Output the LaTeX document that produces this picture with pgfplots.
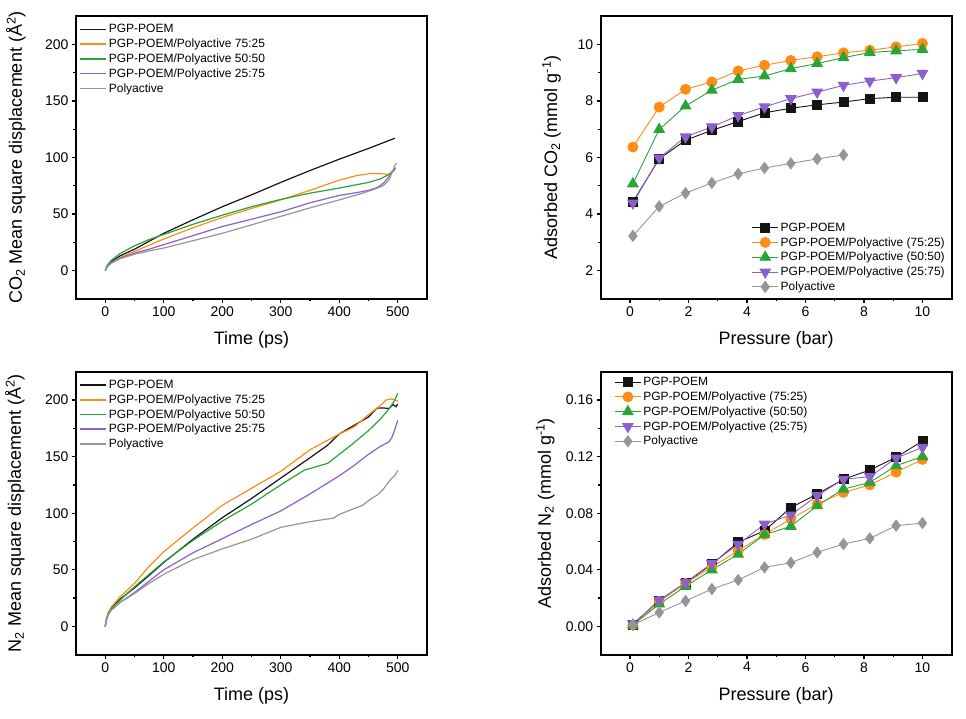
\documentclass[border=0pt]{standalone}
\usepackage{fontspec}
\setmainfont{Liberation Sans}
\usepackage{pgfplots}
\pgfplotsset{compat=1.18}
\definecolor{cBk}{RGB}{20,20,20}
\definecolor{cOr}{RGB}{255,140,20}
\definecolor{cGr}{RGB}{40,165,55}
\definecolor{cPu}{RGB}{140,95,205}
\definecolor{cGy}{RGB}{150,150,150}
\pgfplotsset{
  myax/.style={
    scale only axis, width=351pt, height=283pt, anchor=south west,
    axis line style={line width=2pt},
    tick align=outside, xtick pos=left, ytick pos=left,
    major tick length=4pt, minor tick length=2.5pt,
    every tick/.style={black, line width=1.3pt},
    minor tick num=1,
    tick label style={font=\fontsize{14}{16}\selectfont},
    label style={font=\fontsize{18}{21}\selectfont},
    /pgf/number format/assume math mode=true,
    legend style={draw=none, fill=none, font=\fontsize{12}{14}\selectfont, row sep=0.6pt},
    legend cell align=left,
    legend image code/.code={\draw[mark repeat=2,mark phase=2,##1] plot coordinates {(0pt,0pt) (13pt,0pt) (26pt,0pt)};},
  },
  msd/.style={myax, xmin=-50, xmax=550, ymin=-25, ymax=225, xtick={0,100,...,500}, ytick={0,50,...,200},
    xlabel={Time (ps)}, xlabel style={at={(axis description cs:0.5,-0.145)}, anchor=center},
    legend image code/.code={\draw[##1, line width=1.7pt] (0pt,0pt) -- (26pt,0pt);},
    legend style={at={(axis description cs:0.0,0.985)}, anchor=north west}},
  ads/.style={myax, xmin=-1, xmax=11, xtick={0,2,...,10},
    xlabel={Pressure (bar)}, xlabel style={at={(axis description cs:0.5,-0.145)}, anchor=center}},
  ln/.style={line width=1.2pt},
  mk/.style={line width=0.9pt, mark options={solid}},
}
\begin{document}
\begin{tikzpicture}
\useasboundingbox (0,0) rectangle (966pt,718pt);
% ---------------- top left
\begin{axis}[msd, at={(76pt,419pt)},
  ylabel={CO\textsubscript{2} Mean square displacement (Å\textsuperscript{2})},
  ylabel style={at={(axis description cs:-0.171,0.5)}, anchor=center}]
\addplot[ln, cBk] coordinates {(0,0) (3,4) (10,8) (25,13) (50,19) (75,26) (100,33) (150,45) (200,56.5) (250,67) (300,78) (350,88.5) (400,98.5) (450,108) (495,117)};
\addlegendentry{PGP-POEM}
\addplot[ln, cOr] coordinates {(0,0) (3,3.5) (10,7) (25,11.5) (50,17) (75,22.5) (100,28) (150,38) (200,47) (250,55) (300,62.5) (350,71) (400,80) (430,84) (455,86) (475,85.5) (485,85) (495,89)};
\addlegendentry{PGP-POEM/Polyactive 75:25}
\addplot[ln, cGr] coordinates {(0,0) (3,4.5) (10,9) (25,15) (50,22) (75,27.5) (100,32) (150,41) (200,49) (250,56.5) (300,63) (350,68.5) (400,73) (430,76) (450,78) (470,81) (485,85) (497,91)};
\addlegendentry{PGP-POEM/Polyactive 50:50}
\addplot[ln, cPu] coordinates {(0,0) (3,3.5) (10,7) (25,11) (50,15.5) (75,19) (100,23) (150,31) (200,39) (250,45.5) (300,52) (350,60) (400,66.5) (430,69) (450,71) (465,73.5) (475,77) (485,83) (495,90)};
\addlegendentry{PGP-POEM/Polyactive 25:75}
\addplot[ln, cGy] coordinates {(0,0) (3,3) (10,6.5) (25,10.5) (50,14.5) (75,17.5) (100,20) (150,26.5) (200,33) (250,40.5) (300,48) (350,55.5) (400,62.5) (440,68.5) (460,72) (475,75) (485,80) (495,93) (498,95)};
\addlegendentry{Polyactive}
\end{axis}
% ---------------- bottom left
\begin{axis}[msd, at={(76pt,63.3pt)},
  ylabel={N\textsubscript{2} Mean square displacement (Å\textsuperscript{2})},
  ylabel style={at={(axis description cs:-0.174,0.5)}, anchor=center}]
\addplot[ln, cBk] coordinates {(0,0) (2,6) (5,11) (10,16) (25,24) (50,34) (75,45) (100,56.5) (150,77) (200,96) (250,113) (300,131) (350,149) (380,160) (400,170) (420,176) (450,185) (465,193) (475,193) (485,192.5) (492,196) (497,194) (500,196.5)};
\addlegendentry{PGP-POEM}
\addplot[ln, cOr] coordinates {(0,0) (2,6.5) (5,12) (10,17) (25,26) (50,38) (75,53) (100,66) (150,87) (200,107) (250,122) (300,137) (350,156) (375,163) (400,170) (425,176) (450,187) (470,195) (480,200) (490,201) (500,199)};
\addlegendentry{PGP-POEM/Polyactive 75:25}
\addplot[ln, cGr] coordinates {(0,0) (2,6) (5,11) (10,15.5) (25,23) (50,35) (75,46) (100,57) (150,76) (200,93) (250,108) (300,125) (340,138) (360,141) (380,144) (400,152) (420,160) (450,173) (470,183) (485,192) (495,200) (500,206)};
\addlegendentry{PGP-POEM/Polyactive 50:50}
\addplot[ln, cPu] coordinates {(0,0) (2,5.5) (5,10.5) (10,14.5) (25,21) (50,30) (75,40) (100,50) (150,65) (200,77.5) (250,90) (300,102) (350,117) (400,133) (425,142) (450,152) (470,159) (485,163) (490,167) (495,174) (500,182)};
\addlegendentry{PGP-POEM/Polyactive 25:75}
\addplot[ln, cGy] coordinates {(0,0) (2,5.5) (5,10) (10,14) (25,21) (50,29) (75,38) (100,46) (150,59) (200,68.5) (250,77) (300,87.5) (350,92.5) (375,94.5) (390,95.5) (400,99) (420,103) (440,107) (455,113) (465,116) (475,121) (485,128) (490,131) (495,133) (500,138)};
\addlegendentry{Polyactive}
\end{axis}
% ---------------- top right
\begin{axis}[ads, at={(600.7pt,419pt)}, ymin=1, ymax=11, ytick={2,4,...,10},
  ylabel={Adsorbed CO\textsubscript{2} (mmol g\textsuperscript{-1})},
  ylabel style={at={(axis description cs:-0.14,0.5)}, anchor=center},
  legend style={at={(axis description cs:0.995,0.01)}, anchor=south east}]
\addplot[mk, cBk, mark=square*, mark size=4.5pt] coordinates {(0.1,4.43) (1.0,5.95) (1.9,6.61) (2.8,6.96) (3.7,7.27) (4.6,7.58) (5.5,7.74) (6.4,7.86) (7.3,7.96) (8.2,8.08) (9.1,8.13) (10,8.13)};
\addlegendentry{PGP-POEM}
\addplot[mk, cOr, mark=*, mark size=5pt] coordinates {(0.1,6.37) (1.0,7.78) (1.9,8.41) (2.8,8.67) (3.7,9.06) (4.6,9.26) (5.5,9.43) (6.4,9.56) (7.3,9.70) (8.2,9.79) (9.1,9.91) (10,10.03)};
\addlegendentry{PGP-POEM/Polyactive (75:25)}
\addplot[mk, cGr, mark=triangle*, mark size=6pt] coordinates {(0.1,5.07) (1.0,6.99) (1.9,7.82) (2.8,8.38) (3.7,8.76) (4.6,8.88) (5.5,9.14) (6.4,9.32) (7.3,9.53) (8.2,9.71) (9.1,9.77) (10,9.82)};
\addlegendentry{PGP-POEM/Polyactive (50:50)}
\addplot[mk, cPu, mark=triangle*, mark size=6pt, mark options={rotate=180}] coordinates {(0.1,4.39) (1.0,5.98) (1.9,6.73) (2.8,7.08) (3.7,7.48) (4.6,7.79) (5.5,8.08) (6.4,8.31) (7.3,8.55) (8.2,8.70) (9.1,8.82) (10,8.97)};
\addlegendentry{PGP-POEM/Polyactive (25:75)}
\addplot[mk, cGy, mark=diamond*, mark size=5.5pt] coordinates {(0.1,3.23) (1.0,4.27) (1.9,4.74) (2.8,5.10) (3.7,5.42) (4.6,5.63) (5.5,5.79) (6.4,5.95) (7.3,6.09)};
\addlegendentry{Polyactive}
\end{axis}
% ---------------- bottom right
\begin{axis}[ads, at={(600.7pt,63.3pt)}, ymin=-0.02, ymax=0.18, ytick={0,0.04,...,0.17},
  scaled y ticks=false, yticklabel style={/pgf/number format/.cd, fixed, fixed zerofill, precision=2},
  ylabel={Adsorbed N\textsubscript{2} (mmol g\textsuperscript{-1})},
  ylabel style={at={(axis description cs:-0.158,0.5)}, anchor=center},
  legend style={at={(axis description cs:0.03,0.995)}, anchor=north west}]
\addplot[mk, cBk, mark=square*, mark size=4.5pt] coordinates {(0.1,0.0012) (1.0,0.018) (1.9,0.0306) (2.8,0.044) (3.7,0.0594) (4.6,0.0676) (5.5,0.084) (6.4,0.0935) (7.3,0.104) (8.2,0.1105) (9.1,0.1195) (10,0.131)};
\addlegendentry{PGP-POEM}
\addplot[mk, cOr, mark=*, mark size=5pt] coordinates {(0.1,0.001) (1.0,0.0177) (1.9,0.0304) (2.8,0.042) (3.7,0.0535) (4.6,0.065) (5.5,0.0759) (6.4,0.0865) (7.3,0.0947) (8.2,0.100) (9.1,0.109) (10,0.118)};
\addlegendentry{PGP-POEM/Polyactive (75:25)}
\addplot[mk, cGr, mark=triangle*, mark size=6pt] coordinates {(0.1,0.001) (1.0,0.0158) (1.9,0.0283) (2.8,0.040) (3.7,0.051) (4.6,0.0648) (5.5,0.0707) (6.4,0.0853) (7.3,0.097) (8.2,0.1018) (9.1,0.1136) (10,0.120)};
\addlegendentry{PGP-POEM/Polyactive (50:50)}
\addplot[mk, cPu, mark=triangle*, mark size=6pt, mark options={rotate=180}] coordinates {(0.1,0.0017) (1.0,0.0186) (1.9,0.031) (2.8,0.0445) (3.7,0.058) (4.6,0.0723) (5.5,0.0787) (6.4,0.0924) (7.3,0.104) (8.2,0.1058) (9.1,0.119) (10,0.1265)};
\addlegendentry{PGP-POEM/Polyactive (25:75)}
\addplot[mk, cGy, mark=diamond*, mark size=5.5pt] coordinates {(0.1,0.001) (1.0,0.0099) (1.9,0.018) (2.8,0.0264) (3.7,0.0328) (4.6,0.0417) (5.5,0.045) (6.4,0.0523) (7.3,0.0582) (8.2,0.0622) (9.1,0.0712) (10,0.073)};
\addlegendentry{Polyactive}
\end{axis}
\end{tikzpicture}
\end{document}
